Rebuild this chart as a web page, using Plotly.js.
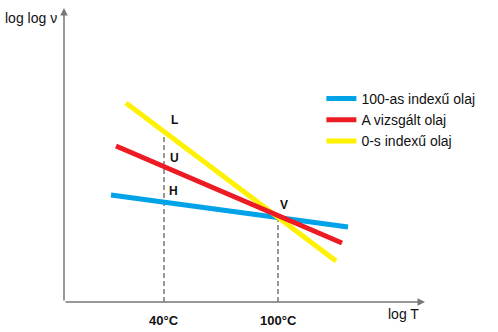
<!DOCTYPE html>
<html><head><meta charset="utf-8">
<script src="https://cdn.plot.ly/plotly-3.0.1.min.js"></script>
<style>html,body{margin:0;padding:0;background:#fff;}#chart{width:498px;height:332px;}</style>
</head><body><div id="chart"></div>
<script>
// schematic units (arbitrary log T / log log v units)
const seriesNames = ["100-as indexű olaj", "A vizsgált olaj", "0-s indexű olaj"];
const seriesColors = ["#00a2e8", "#ed1c24", "#fff200"];
const xBlue = [47, 284];
const yBlue = [107, 75];
const xRed = [52, 278];
const yRed = [156, 59];
const xYellow = [62, 272];
const yYellow = [199, 41];
const tempLabels = ["40°C", "100°C"];
const tempX = [100, 214];
const tempTopY = [170, 85];
const pointLabels = ["L", "U", "H", "V"];
const pointX = [110, 110, 109, 220];
const pointY = [182, 144, 111, 97];
const xMax = 361, yMax = 294;

const traces = [];
const xs = [xBlue, xRed, xYellow], ys = [yBlue, yRed, yYellow];
for (let i = 0; i < tempX.length; i++) {
  traces.push({x: [tempX[i], tempX[i]], y: [0, tempTopY[i]], mode: 'lines',
    line: {color: '#777', width: 1.5, dash: '5px,3px'}, showlegend: false, hoverinfo: 'skip'});
}
// draw order: blue, yellow, red (red on top); legend order kept via legendrank
const drawOrder = [0, 2, 1];
for (const i of drawOrder) {
  traces.push({x: xs[i], y: ys[i], mode: 'lines', name: seriesNames[i], legendrank: i + 1,
    line: {color: seriesColors[i], width: 5}});
}
const font = {family: 'Liberation Sans, Arial', size: 12, color: '#111'};
const annotations = [];
annotations.push({x: 0, y: yMax, ax: 0, ay: 0, xref: 'x', yref: 'y', axref: 'x', ayref: 'y',
  showarrow: true, arrowhead: 2, arrowsize: 1, arrowwidth: 1.5, arrowcolor: '#777', text: ''});
annotations.push({x: xMax, y: 0, ax: 0, ay: 0, xref: 'x', yref: 'y', axref: 'x', ayref: 'y',
  showarrow: true, arrowhead: 2, arrowsize: 1, arrowwidth: 1.5, arrowcolor: '#777', text: ''});
for (let i = 0; i < tempLabels.length; i++) {
  annotations.push({x: tempX[i] / xMax, y: -18 / yMax, xref: 'paper', yref: 'paper',
    xanchor: 'center', yanchor: 'middle',
    text: '<b>' + tempLabels[i] + '</b>', showarrow: false,
    font: {family: 'Liberation Sans, Arial', size: 13, color: '#111'}});
}
for (let i = 0; i < pointLabels.length; i++) {
  annotations.push({x: pointX[i], y: pointY[i], xref: 'x', yref: 'y', text: '<b>' + pointLabels[i] + '</b>',
    xanchor: 'center', yanchor: 'middle', showarrow: false, font: font});
}
annotations.push({x: 339 / xMax, y: -12 / yMax, xref: 'paper', yref: 'paper', text: 'log T', showarrow: false,
  xanchor: 'center', yanchor: 'middle',
  font: {family: 'Liberation Sans, Arial', size: 14, color: '#111'}});
annotations.push({x: -33 / xMax, y: 284 / yMax, xref: 'paper', yref: 'paper', text: 'log log ν', showarrow: false,
  xanchor: 'center', yanchor: 'middle',
  font: {family: 'Liberation Sans, Arial', size: 14, color: '#111'}});

const layout = {
  width: 498, height: 332,
  margin: {l: 64, r: 73, t: 8, b: 30},
  paper_bgcolor: '#fff', plot_bgcolor: '#fff',
  xaxis: {range: [0, xMax], visible: false, fixedrange: true},
  yaxis: {range: [0, yMax], visible: false, fixedrange: true},
  showlegend: true,
  legend: {x: 0.713, y: 0.745, xanchor: 'left', yanchor: 'top', bgcolor: 'rgba(0,0,0,0)',
    font: {family: 'Liberation Sans, Arial', size: 14, color: '#111'}, tracegroupgap: 0},
  annotations: annotations
};
Plotly.newPlot('chart', traces, layout, {displayModeBar: false, staticPlot: true});
</script></body></html>
